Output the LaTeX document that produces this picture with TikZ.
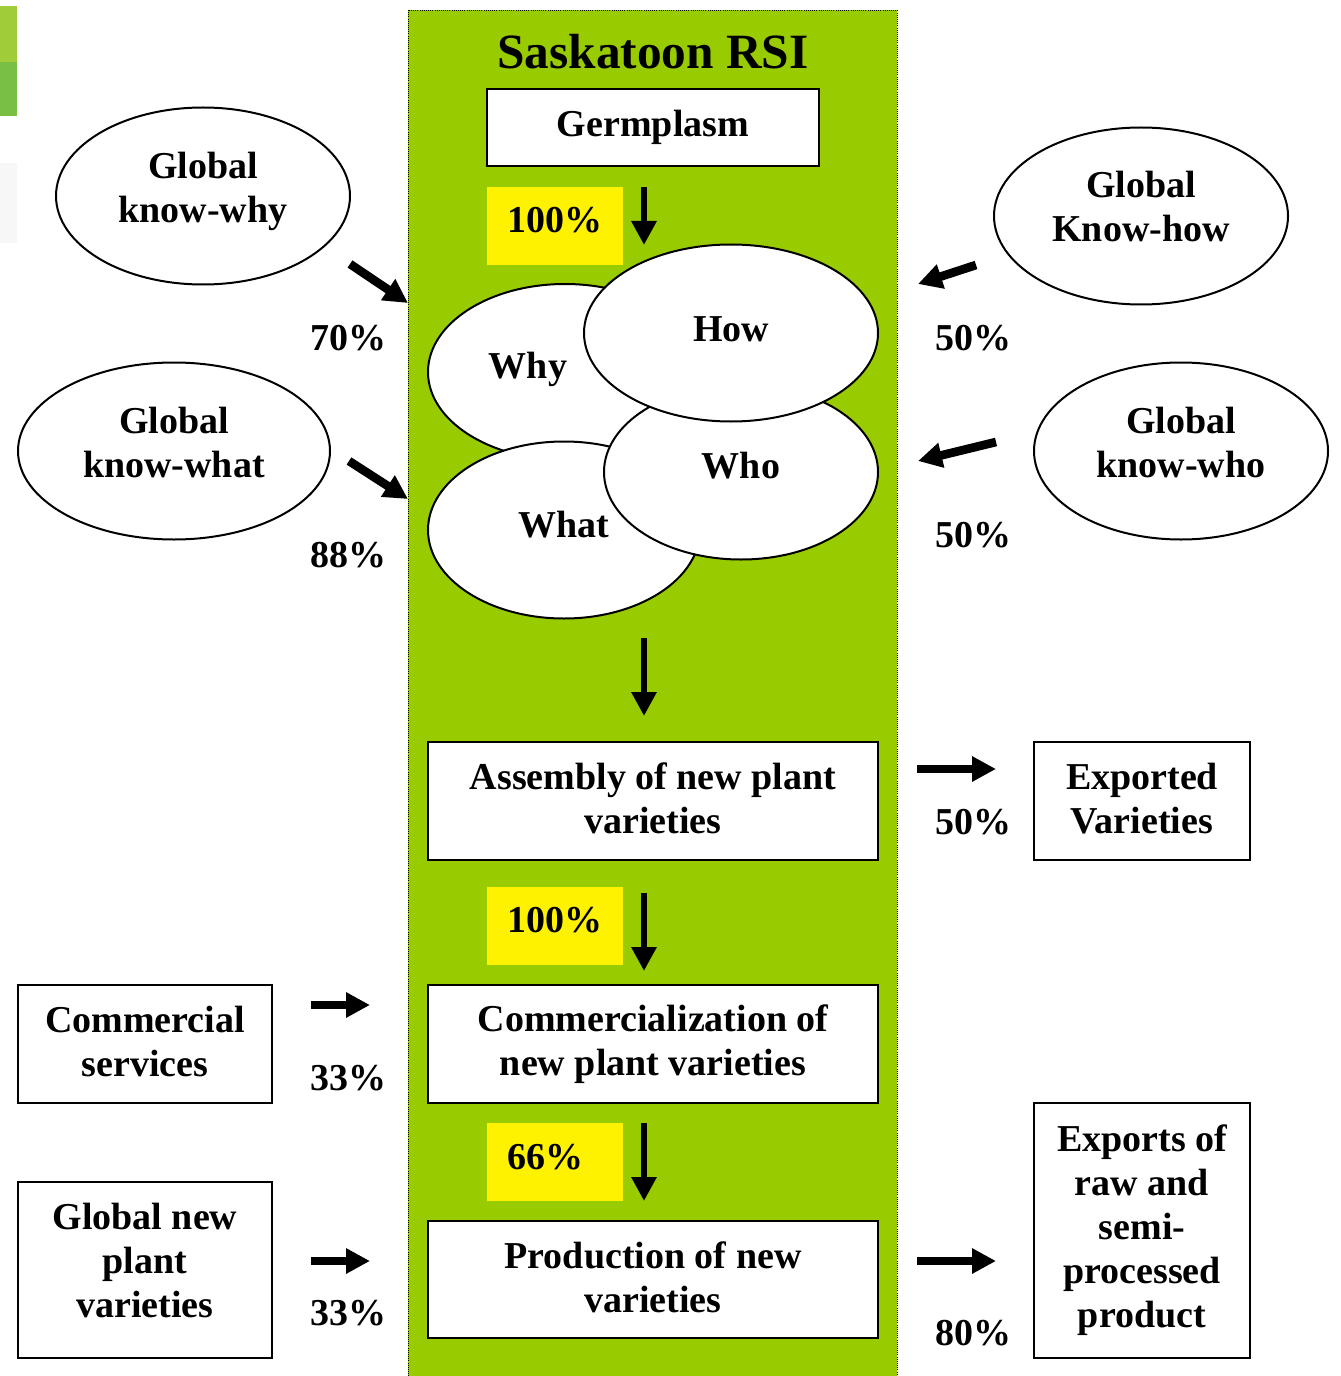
\documentclass[tikz,border=0pt]{standalone}
\usepackage{fontspec}
\setmainfont{Liberation Serif}
\usetikzlibrary{shapes.geometric,arrows.meta}
\newlength\pxu
\setlength\pxu{0.75pt}
\definecolor{rsigreen}{HTML}{99CC00}
\definecolor{barlight}{HTML}{A0CC3A}
\definecolor{bardark}{HTML}{78BF43}
\begin{document}
\begin{tikzpicture}[x=0.75pt,y=-0.75pt,
  every node/.style={font=\bfseries\fontsize{28.5pt}{33pt}\selectfont, align=center},
  box/.style={draw=black, line width=1.5pt, fill=white, inner sep=0pt},
  oval/.style={ellipse, draw=black, line width=1.5pt, fill=white, inner sep=0pt},
  ybox/.style={fill=yellow, inner sep=0pt, minimum width=136\pxu, minimum height=78\pxu},
  varr/.style={line width=5pt, -{Triangle[length=18pt,width=18pt]}},
  harr/.style={line width=6.5pt, -{Triangle[length=18pt,width=18pt]}},
  pct/.style={inner sep=0pt}
]
\useasboundingbox (0,0) rectangle (1340,1376);
% corner bars
\fill[barlight] (0,6) rectangle (17,62);
\fill[bardark] (0,62) rectangle (17,116);
\fill[black!3] (0,163) rectangle (17,243);
% green column
\draw[fill=rsigreen, draw=black, densely dotted, line width=0.6pt] (408,10) rectangle (897,1380);
\node[font=\bfseries\fontsize{37pt}{40pt}\selectfont] (title) at (653,52) {Saskatoon RSI};
\node[box, minimum width=332\pxu, minimum height=77\pxu] (germ) at (653,127.5) {Germplasm};
\node[ybox, label={[anchor=west, inner sep=0pt, xshift=15pt, yshift=4.5pt]west:100\%}] (y1) at (555,226) {};
% four ellipses
\node[oval, minimum width=274\pxu, minimum height=176\pxu,
  label={[xshift=-27.75pt, yshift=2pt]center:Why}] (why) at (565,372) {};
\node[oval, minimum width=272\pxu, minimum height=177\pxu,
  label={[yshift=3.75pt]center:What}] (what) at (564,530) {};
\node[oval, minimum width=274\pxu, minimum height=175\pxu,
  label={[yshift=4.5pt]center:Who}] (who) at (741,472) {};
\node[oval, minimum width=294\pxu, minimum height=177\pxu,
  label={[yshift=3pt]center:How}] (how) at (731,333) {};
% outer ellipses
\node[oval, minimum width=294\pxu, minimum height=177\pxu,
  label={[yshift=3.75pt]center:Global\\know-why}] (kwhy) at (203,196) {};
\node[oval, minimum width=312\pxu, minimum height=177\pxu,
  label={[yshift=6pt]center:Global\\know-what}] (kwhat) at (174,451) {};
\node[oval, minimum width=294\pxu, minimum height=177\pxu,
  label={[yshift=6.75pt]center:Global\\Know-how}] (khow) at (1141,216) {};
\node[oval, minimum width=294\pxu, minimum height=177\pxu,
  label={[yshift=6pt]center:Global\\know-who}] (kwho) at (1181,451) {};
% boxes
\node[box, minimum width=450\pxu, minimum height=118\pxu,
  label={[yshift=2.25pt]center:Assembly of new plant\\varieties}] (assembly) at (653,801) {};
\node[box, minimum width=216\pxu, minimum height=118\pxu,
  label={[yshift=1.5pt]center:Exported\\Varieties}] (exported) at (1142,801) {};
\node[ybox, label={[anchor=west, inner sep=0pt, xshift=15pt, yshift=4.5pt]west:100\%}] (y2) at (555,926) {};
\node[box, minimum width=450\pxu, minimum height=118\pxu] (comm) at (653,1044) {Commercialization of\\new plant varieties};
\node[box, minimum width=254\pxu, minimum height=118\pxu,
  label={[yshift=2.25pt]center:Commercial\\services}] (services) at (145,1044) {};
\node[ybox, label={[anchor=west, inner sep=0pt, xshift=15pt, yshift=3.75pt]west:66\%}] (y3) at (555,1162) {};
\node[box, minimum width=450\pxu, minimum height=117\pxu,
  label={[yshift=1.5pt]center:Production of new\\varieties}] (prod) at (653,1279.5) {};
\node[box, minimum width=254\pxu, minimum height=176\pxu,
  label={[yshift=7.5pt]center:Global new\\plant\\varieties}] (globalnew) at (145,1270) {};
\node[box, minimum width=216\pxu, minimum height=255\pxu] (exports) at (1142,1230.5) {Exports of\\raw and\\semi-\\processed\\product};
% percentages
\node[pct] (p70) at (348,338) {70\%};
\node[pct] (p88) at (348,555) {88\%};
\node[pct] (p50a) at (973,338) {50\%};
\node[pct] (p50b) at (973,535) {50\%};
\node[pct] (p50c) at (973,822) {50\%};
\node[pct] (p33a) at (348,1078) {33\%};
\node[pct] (p33b) at (348,1313) {33\%};
\node[pct] (p80) at (973,1333) {80\%};
% arrow end points
\coordinate (a1s) at (350,264); \coordinate (a1e) at (408,303);
\coordinate (a2s) at (349,461); \coordinate (a2e) at (408,499);
\coordinate (a3s) at (976,265); \coordinate (a3e) at (918,284);
\coordinate (a4s) at (996,442); \coordinate (a4e) at (918,461);
\coordinate (d1s) at (644,187); \coordinate (d1e) at (644,245);
\coordinate (d2s) at (644,638); \coordinate (d2e) at (644,716);
\coordinate (d3s) at (644,893); \coordinate (d3e) at (644,971);
\coordinate (d4s) at (644,1123); \coordinate (d4e) at (644,1201);
\coordinate (h1s) at (917,769); \coordinate (h1e) at (996,769);
\coordinate (h2s) at (311,1005); \coordinate (h2e) at (370,1005);
\coordinate (h3s) at (311,1261); \coordinate (h3e) at (370,1261);
\coordinate (h4s) at (917,1261); \coordinate (h4e) at (996,1261);
\draw[harr] (a1s) -- (a1e);
\draw[harr] (a2s) -- (a2e);
\draw[harr] (a3s) -- (a3e);
\draw[harr] (a4s) -- (a4e);
\draw[varr] (d1s) -- (d1e);
\draw[varr] (d2s) -- (d2e);
\draw[varr] (d3s) -- (d3e);
\draw[varr] (d4s) -- (d4e);
\draw[harr] (h1s) -- (h1e);
\draw[harr] (h2s) -- (h2e);
\draw[harr] (h3s) -- (h3e);
\draw[harr] (h4s) -- (h4e);
\end{tikzpicture}
\end{document}
